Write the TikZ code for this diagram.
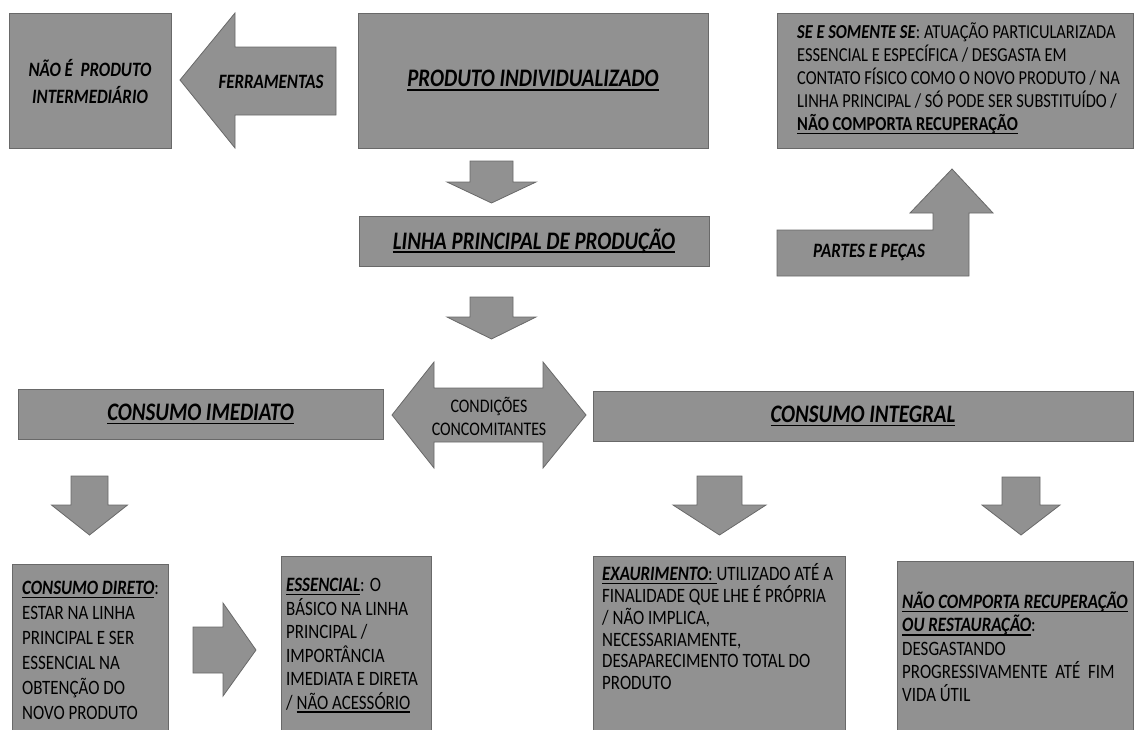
\documentclass[tikz,border=0pt]{standalone}
\usepackage{fontspec}
\setmainfont{Carlito}[FakeStretch=0.83]
\usetikzlibrary{positioning}
\definecolor{boxgray}{RGB}{145,145,145}
\definecolor{edgegray}{RGB}{105,105,105}
\newcommand{\ulined}[1]{\setbox0\hbox{#1}\rlap{\rule[-3.8pt]{\wd0}{1.5pt}}\box0}
\newcommand{\bitx}[1]{\textbf{\textit{#1}}}
\newcommand{\firstln}{\rule{0pt}{1em}}
% block arrow pointing down: centre x, top, head base, tip, half shaft, half head
\newcommand{\blkdown}[6]{\draw[blk] (#1-#5,#2) -- (#1+#5,#2) -- (#1+#5,#3) -- (#1+#6,#3) -- (#1,#4) -- (#1-#6,#3) -- (#1-#5,#3) -- cycle;}
\begin{document}
\begin{tikzpicture}[x=1pt, y=-1pt,
  blk/.style={fill=boxgray, draw=edgegray, line width=0.8pt},
  box/.style={blk, inner sep=0pt},
  head/.style={font=\fontsize{25.2}{28}\selectfont\bfseries\itshape},
  lbl/.style={font=\fontsize{20.4}{27}\selectfont\bfseries\itshape, align=center},
  body/.style={font=\fontsize{20.4}{#1}\selectfont, align=left, anchor=north west, inner sep=0pt}]
\useasboundingbox (0,0) rectangle (1134,729);
% Top row
\node[box, lbl, minimum width=162pt, minimum height=135pt] (intermed) at (90,81) {NÃO É\ \ PRODUTO\\INTERMEDIÁRIO};
\draw[blk] (180,80) -- (235,13) -- (235,47) -- (336,47) -- (336,115) -- (235,115) -- (235,148) -- cycle;
\node[lbl] (ferramentas) at (271,82) {FERRAMENTAS};
\node[box, head, minimum width=350pt, minimum height=135pt] (produto) at (533,80.5) {\ulined{PRODUTO INDIVIDUALIZADO}};
\node[box, minimum width=356pt, minimum height=135pt] (seesomente) at (955,80.5) {};
\node[body=23, font=\fontsize{19.8}{23}\selectfont] (seesomente-txt) at (797,18.5)
  {\firstln\bitx{SE E SOMENTE SE}: ATUAÇÃO PARTICULARIZADA\\ESSENCIAL E ESPECÍFICA / DESGASTA EM\\CONTATO FÍSICO COMO O NOVO PRODUTO / NA\\LINHA PRINCIPAL / SÓ PODE SER SUBSTITUÍDO /\\\ulined{\textbf{NÃO COMPORTA RECUPERAÇÃO}}};
% Main line
\blkdown{491.5}{161}{182}{203}{21.5}{44.5}
\node[box, head, minimum width=350pt, minimum height=50pt] (linha) at (534,241) {\ulined{LINHA PRINCIPAL DE PRODUÇÃO}};
\blkdown{491.5}{297}{317}{339}{21.5}{44.5}
% Parts and pieces
\draw[blk] (777,230) -- (933,230) -- (933,213) -- (910,213) -- (952,169) -- (993,213) -- (969,213) -- (969,276) -- (777,276) -- cycle;
\node[lbl] (partes) at (869,252) {PARTES E PEÇAS};
% Consumption row
\node[box, head, minimum width=365pt, minimum height=50pt] (imediato) at (200.5,414) {\ulined{CONSUMO IMEDIATO}};
\draw[blk] (392,415) -- (434,362) -- (434,388) -- (543,388) -- (543,362) -- (586,415) -- (543,468) -- (543,442) -- (434,442) -- (434,468) -- cycle;
\node[font=\fontsize{19.2}{23}\selectfont, align=center] (condicoes) at (489,416.5) {CONDIÇÕES\\CONCOMITANTES};
\node[box, head, minimum width=540pt, minimum height=50pt] (integral) at (863,416) {\ulined{CONSUMO INTEGRAL}};
\blkdown{89.5}{476}{505}{535}{18.5}{38}
\blkdown{719.5}{476}{505}{535}{22.5}{46.5}
\blkdown{1021}{477}{505}{535}{19}{39}
% Bottom row
\node[box, minimum width=156pt, minimum height=171pt] (direto) at (90,649.5) {};
\node[body=25] (direto-txt) at (22,574)
  {\firstln\ulined{\bitx{CONSUMO DIRETO}}:\\ESTAR NA LINHA\\PRINCIPAL E SER\\ESSENCIAL NA\\OBTENÇÃO DO\\NOVO PRODUTO};
\draw[blk] (193,627) -- (223,627) -- (223,603) -- (256,650) -- (223,696) -- (223,673) -- (193,673) -- cycle;
\node[box, minimum width=150pt, minimum height=179pt] (essencial) at (356,645.5) {};
\node[body=23.5] (essencial-txt) at (286,571)
  {\firstln\ulined{\bitx{ESSENCIAL}}: O\\BÁSICO NA LINHA\\PRINCIPAL /\\IMPORTÂNCIA\\IMEDIATA E DIRETA\\/ \ulined{NÃO ACESSÓRIO}};
\node[box, minimum width=252pt, minimum height=179pt] (exaurimento) at (719,645.5) {};
\node[body=21.8] (exaurimento-txt) at (602,560)
  {\firstln\ulined{\bitx{EXAURIMENTO}: }UTILIZADO ATÉ A\\FINALIDADE QUE LHE É PRÓPRIA\\/ NÃO IMPLICA,\\NECESSARIAMENTE,\\DESAPARECIMENTO TOTAL DO\\PRODUTO};
\node[box, minimum width=236pt, minimum height=174pt] (naocomporta) at (1015,648) {};
\node[body=23.3] (naocomporta-txt) at (902,588)
  {\firstln\ulined{\bitx{NÃO COMPORTA RECUPERAÇÃO}}\\\ulined{\bitx{OU RESTAURAÇÃO}}:\\DESGASTANDO\\PROGRESSIVAMENTE\ \ ATÉ\ \ FIM\\VIDA ÚTIL};
\end{tikzpicture}
\end{document}
